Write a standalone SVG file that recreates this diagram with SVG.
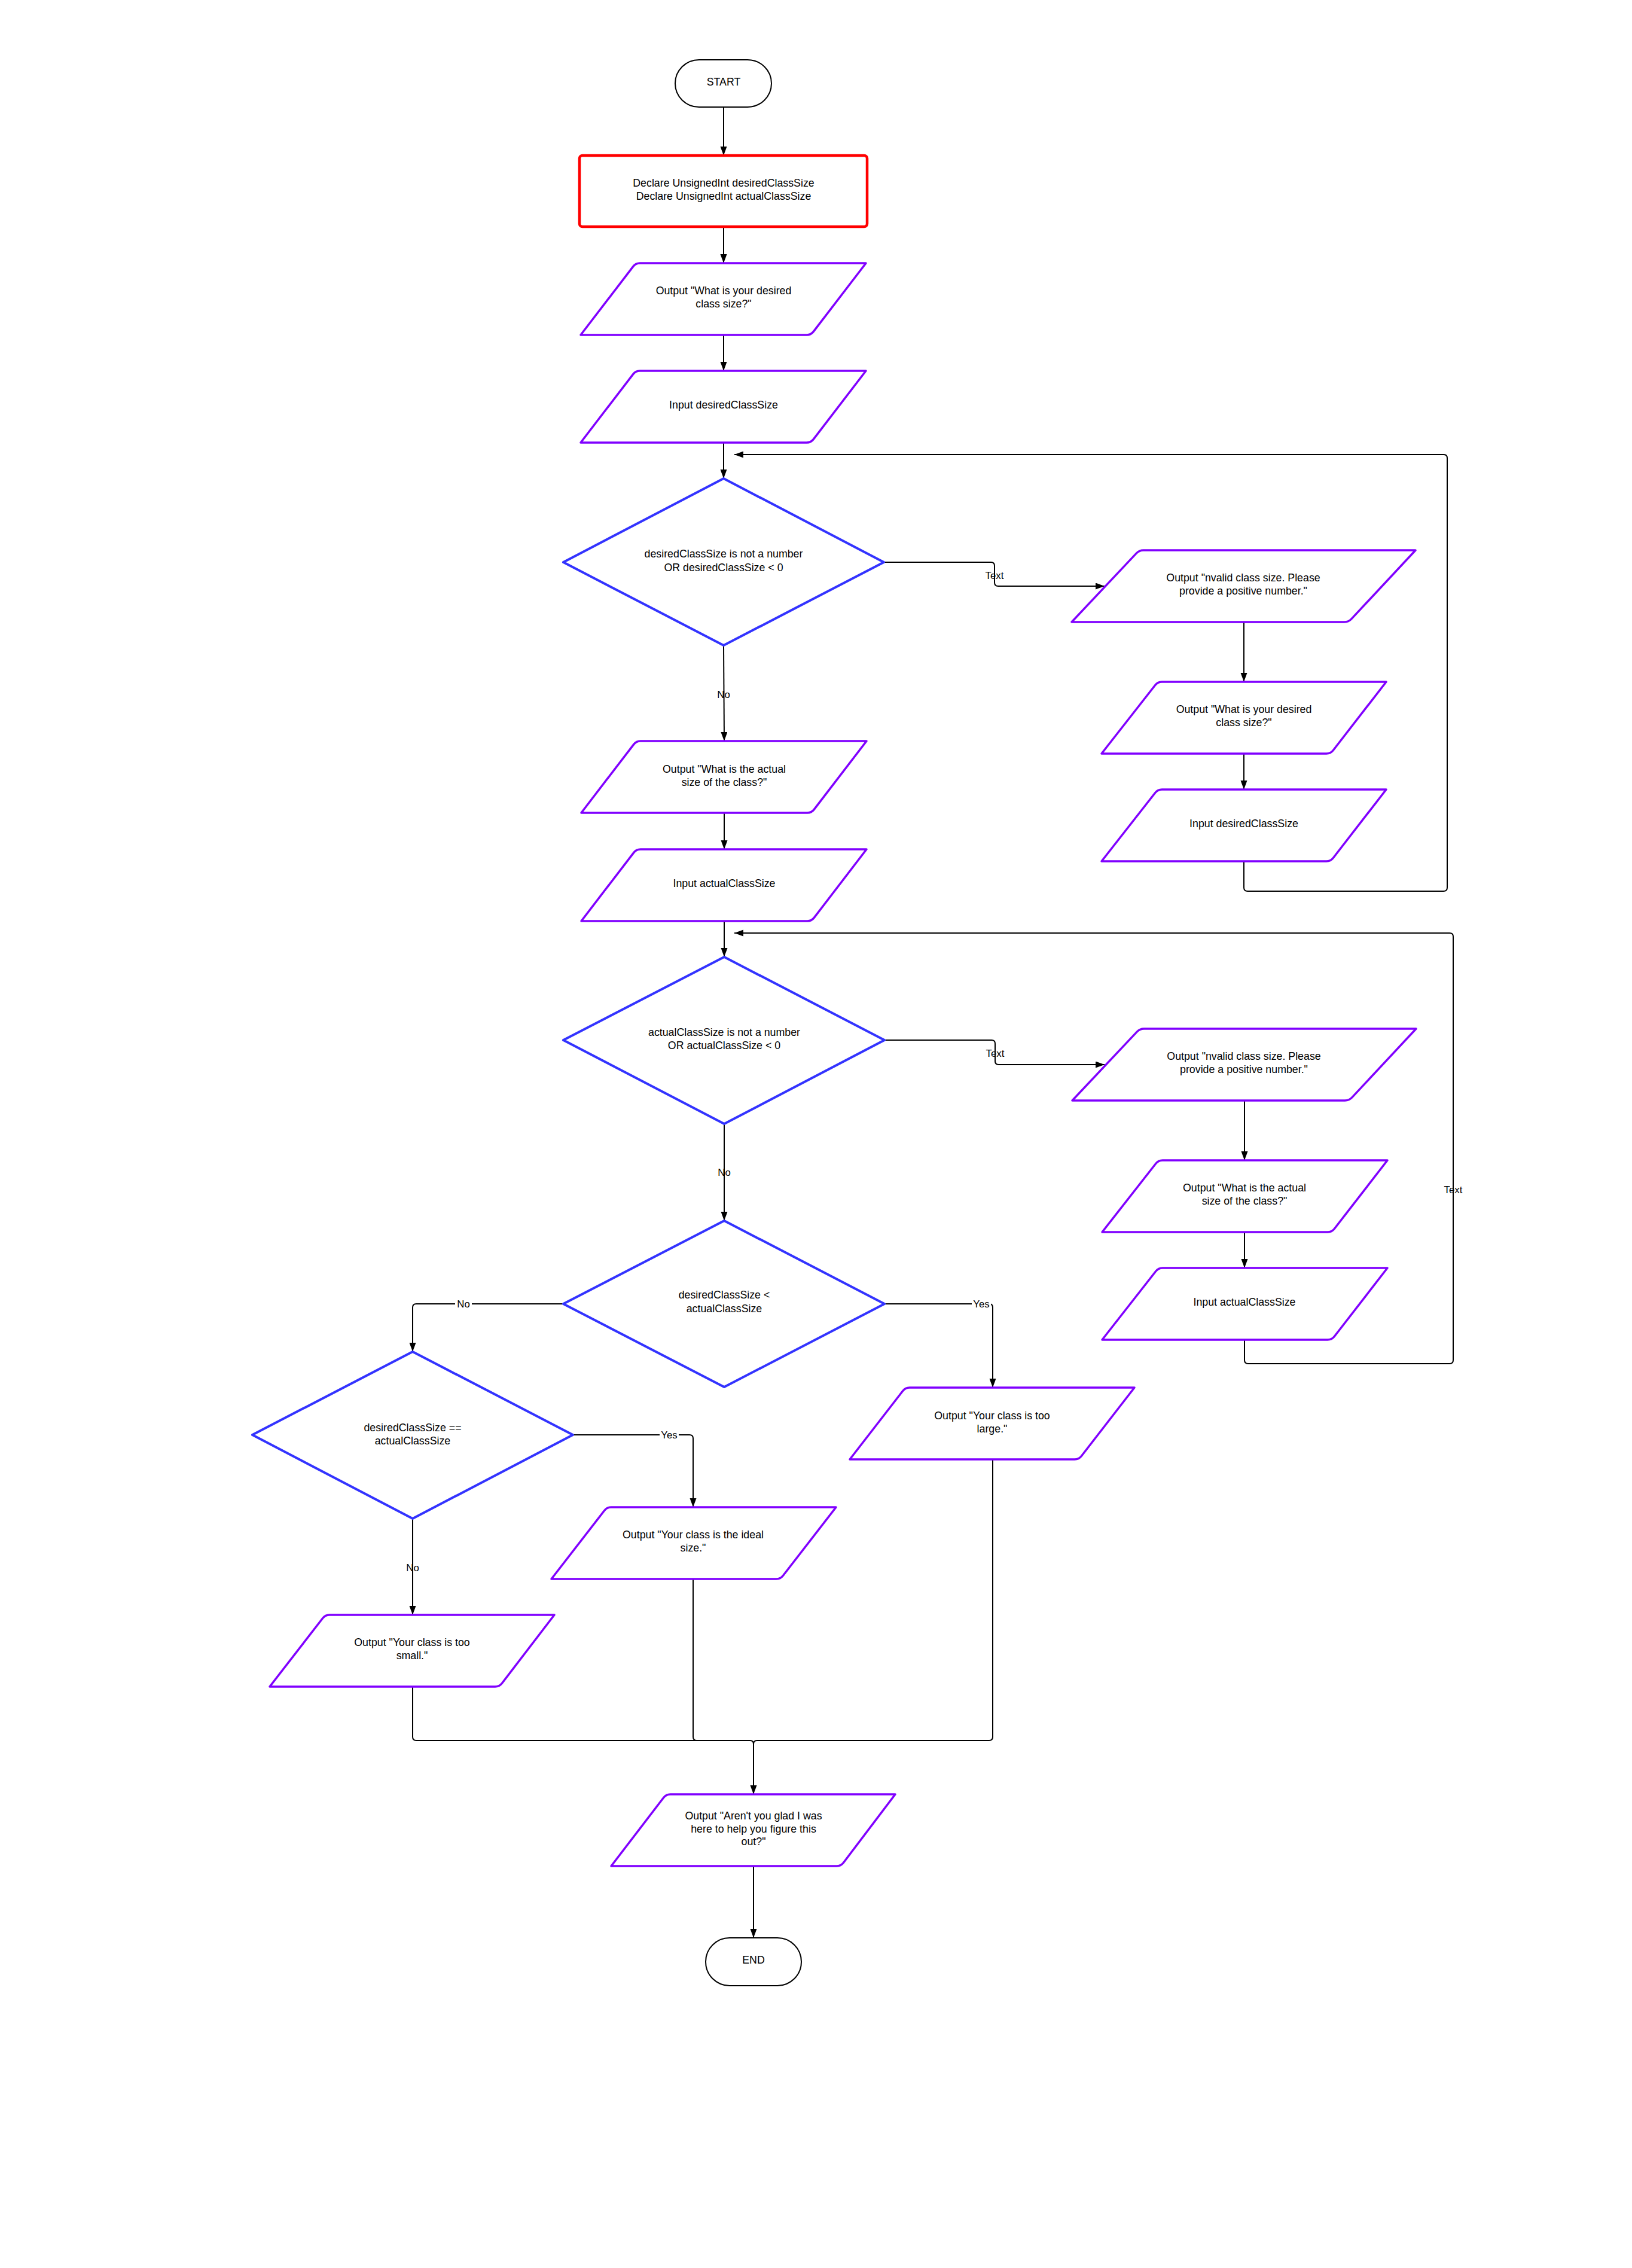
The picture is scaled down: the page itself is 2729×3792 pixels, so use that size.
<svg xmlns="http://www.w3.org/2000/svg" width="2729" height="3792" viewBox="0 0 2729 3792">
<style>
.term{fill:#fff;stroke:#000;stroke-width:2}
.proc{fill:#fff;stroke:#ff0000;stroke-width:4.5}
.io{fill:#fff;stroke:#8000ff;stroke-width:3.5;stroke-linejoin:round}
.dec{fill:#fff;stroke:#3333ff;stroke-width:4;stroke-linejoin:round}
.t{font-family:"Liberation Sans",Arial,sans-serif;font-size:17.8px;text-anchor:middle;fill:#000}
.lbl{font-family:"Liberation Sans",Arial,sans-serif;font-size:16.8px;text-anchor:middle;fill:#000}
.conn{fill:none;stroke:#000;stroke-width:2}
.bg{fill:#fff}
</style>
<defs>
<marker id="arr" markerUnits="userSpaceOnUse" markerWidth="16" markerHeight="12" refX="15" refY="5.5" orient="auto">
<path d="M0,0 L15,5.5 L0,11 z" fill="#000"/>
</marker>
</defs>
<rect width="2729" height="3792" fill="#fff"/>
<g id="connectors">
<path class="conn" d="M1210,179 V260" marker-end="url(#arr)"/>
<path class="conn" d="M1210,379 V440" marker-end="url(#arr)"/>
<path class="conn" d="M1210,560 V620" marker-end="url(#arr)"/>
<path class="conn" d="M1210,740 V800" marker-end="url(#arr)"/>
<path class="conn" d="M1478,940 H1657 Q1663,940 1663,946 V974 Q1663,980 1669,980 H1847" marker-end="url(#arr)"/>
<path class="conn" d="M1210,1079 L1211,1239" marker-end="url(#arr)"/>
<path class="conn" d="M2080,1040 V1140" marker-end="url(#arr)"/>
<path class="conn" d="M2080,1260 V1320" marker-end="url(#arr)"/>
<path class="conn" d="M2080,1440 V1484 Q2080,1490 2086,1490 H2414 Q2420,1490 2420,1484 V766 Q2420,760 2414,760 H1228" marker-end="url(#arr)"/>
<path class="conn" d="M1211,1359 V1420" marker-end="url(#arr)"/>
<path class="conn" d="M1211,1540 V1600" marker-end="url(#arr)"/>
<path class="conn" d="M1479,1739 H1658 Q1664,1739 1664,1745 V1774 Q1664,1780 1670,1780 H1847" marker-end="url(#arr)"/>
<path class="conn" d="M1211,1879 V2041" marker-end="url(#arr)"/>
<path class="conn" d="M2081,1840 V1940" marker-end="url(#arr)"/>
<path class="conn" d="M2081,2060 V2120" marker-end="url(#arr)"/>
<path class="conn" d="M2081,2240 V2274 Q2081,2280 2087,2280 H2424 Q2430,2280 2430,2274 V1566 Q2430,1560 2424,1560 H1228" marker-end="url(#arr)"/>
<path class="conn" d="M942,2180 H696 Q690,2180 690,2186 V2260" marker-end="url(#arr)"/>
<path class="conn" d="M1479,2180 H1654 Q1660,2180 1660,2186 V2320" marker-end="url(#arr)"/>
<path class="conn" d="M958,2399 H1153 Q1159,2399 1159,2405 V2520" marker-end="url(#arr)"/>
<path class="conn" d="M690,2539 V2700" marker-end="url(#arr)"/>
<path class="conn" d="M690,2820 V2904 Q690,2910 696,2910 H1254 Q1260,2910 1260,2916 V3000" marker-end="url(#arr)"/>
<path class="conn" d="M1159,2640 V2904 Q1159,2910 1165,2910 H1254"/>
<path class="conn" d="M1660,2440 V2904 Q1660,2910 1654,2910 H1266 Q1260,2910 1260,2916"/>
<path class="conn" d="M1260,3120 V3240" marker-end="url(#arr)"/>
<text class="lbl" x="1663" y="968">Text</text>
<text class="lbl" x="1210" y="1167">No</text>
<text class="lbl" x="1664" y="1767">Text</text>
<text class="lbl" x="1211" y="1966">No</text>
<text class="lbl" x="2430" y="1995">Text</text>
<rect class="bg" x="761" y="2171" width="28" height="18"/>
<text class="lbl" x="775" y="2186">No</text>
<rect class="bg" x="1625" y="2171" width="32" height="18"/>
<text class="lbl" x="1641" y="2186">Yes</text>
<rect class="bg" x="1103" y="2390" width="32" height="18"/>
<text class="lbl" x="1119" y="2405">Yes</text>
<text class="lbl" x="690" y="2627">No</text>
</g>
<g id="start">
<rect class="term" x="1129" y="100" width="161" height="79" rx="40" ry="39.5"/>
<text class="t" x="1210" y="143">START</text>
</g>
<g id="declare">
<rect class="proc" x="969" y="260" width="481" height="119" rx="5"/>
<text class="t" x="1210" y="311.5">Declare UnsignedInt desiredClassSize</text>
<text class="t" x="1210" y="334">Declare UnsignedInt actualClassSize</text>
</g>
<g id="out-desired">
<path class="io" d="M1058.7,445.6 Q1063,440 1070,440 L1448,440 L1360.3,554.4 Q1356,560 1349,560 L971,560 Z"/>
<text class="t" x="1210" y="491.5">Output "What is your desired</text>
<text class="t" x="1210" y="514">class size?"</text>
</g>
<g id="in-desired">
<path class="io" d="M1058.7,625.6 Q1063,620 1070,620 L1448,620 L1360.3,734.4 Q1356,740 1349,740 L971,740 Z"/>
<text class="t" x="1210" y="683">Input desiredClassSize</text>
</g>
<g id="dec-desired">
<polygon class="dec" points="1210,800 1478,940 1210,1079 942,940"/>
<text class="t" x="1210" y="932">desiredClassSize is not a number</text>
<text class="t" x="1210" y="954.5">OR desiredClassSize &lt; 0</text>
</g>
<g id="out-invalid1">
<path class="io" d="M1900.2,925.1 Q1905,920 1912,920 L2367,920 L2259.8,1034.9 Q2255,1040 2248,1040 L1792,1040 Z"/>
<text class="t" x="2079" y="972">Output "nvalid class size. Please</text>
<text class="t" x="2079" y="994">provide a positive number."</text>
</g>
<g id="out-desired2">
<path class="io" d="M1931.7,1145.5 Q1936,1140 1943,1140 L2318,1140 L2229.3,1254.5 Q2225,1260 2218,1260 L1842,1260 Z"/>
<text class="t" x="2080" y="1192">Output "What is your desired</text>
<text class="t" x="2080" y="1214">class size?"</text>
</g>
<g id="in-desired2">
<path class="io" d="M1931.7,1325.5 Q1936,1320 1943,1320 L2318,1320 L2229.3,1434.5 Q2225,1440 2218,1440 L1842,1440 Z"/>
<text class="t" x="2080" y="1383">Input desiredClassSize</text>
</g>
<g id="out-actual">
<path class="io" d="M1059.7,1244.6 Q1064,1239 1071,1239 L1449,1239 L1361.3,1353.4 Q1357,1359 1350,1359 L972,1359 Z"/>
<text class="t" x="1211" y="1292">Output "What is the actual</text>
<text class="t" x="1211" y="1314">size of the class?"</text>
</g>
<g id="in-actual">
<path class="io" d="M1059.7,1425.6 Q1064,1420 1071,1420 L1449,1420 L1361.3,1534.4 Q1357,1540 1350,1540 L972,1540 Z"/>
<text class="t" x="1211" y="1483">Input actualClassSize</text>
</g>
<g id="dec-actual">
<polygon class="dec" points="1211,1600 1479,1739 1211,1879 942,1739"/>
<text class="t" x="1211" y="1732">actualClassSize is not a number</text>
<text class="t" x="1211" y="1754">OR actualClassSize &lt; 0</text>
</g>
<g id="out-invalid2">
<path class="io" d="M1901.2,1725.1 Q1906,1720 1913,1720 L2368,1720 L2260.8,1834.9 Q2256,1840 2249,1840 L1793,1840 Z"/>
<text class="t" x="2080" y="1772">Output "nvalid class size. Please</text>
<text class="t" x="2080" y="1794">provide a positive number."</text>
</g>
<g id="out-actual2">
<path class="io" d="M1932.7,1945.5 Q1937,1940 1944,1940 L2320,1940 L2231.3,2054.5 Q2227,2060 2220,2060 L1843,2060 Z"/>
<text class="t" x="2081" y="1992">Output "What is the actual</text>
<text class="t" x="2081" y="2014">size of the class?"</text>
</g>
<g id="in-actual2">
<path class="io" d="M1932.7,2125.5 Q1937,2120 1944,2120 L2320,2120 L2231.3,2234.5 Q2227,2240 2220,2240 L1843,2240 Z"/>
<text class="t" x="2081" y="2183">Input actualClassSize</text>
</g>
<g id="dec-less">
<polygon class="dec" points="1211,2041 1479,2180 1211,2319 942,2180"/>
<text class="t" x="1211" y="2171">desiredClassSize &lt;</text>
<text class="t" x="1211" y="2194">actualClassSize</text>
</g>
<g id="out-large">
<path class="io" d="M1509.7,2325.5 Q1514,2320 1521,2320 L1897,2320 L1808.3,2434.5 Q1804,2440 1797,2440 L1421,2440 Z"/>
<text class="t" x="1659" y="2373">Output "Your class is too</text>
<text class="t" x="1659" y="2394.5">large."</text>
</g>
<g id="dec-equal">
<polygon class="dec" points="690,2260 958,2399 690,2539 422,2399"/>
<text class="t" x="690" y="2393">desiredClassSize ==</text>
<text class="t" x="690" y="2414.5">actualClassSize</text>
</g>
<g id="out-ideal">
<path class="io" d="M1010.7,2525.5 Q1015,2520 1022,2520 L1398,2520 L1309.3,2634.5 Q1305,2640 1298,2640 L922,2640 Z"/>
<text class="t" x="1159" y="2572">Output "Your class is the ideal</text>
<text class="t" x="1159" y="2593.5">size."</text>
</g>
<g id="out-small">
<path class="io" d="M539.7,2705.5 Q544,2700 551,2700 L927,2700 L839.3,2814.5 Q835,2820 828,2820 L451,2820 Z"/>
<text class="t" x="689" y="2752">Output "Your class is too</text>
<text class="t" x="689" y="2774">small."</text>
</g>
<g id="out-glad">
<path class="io" d="M1109.7,3005.5 Q1114,3000 1121,3000 L1497,3000 L1410.3,3114.5 Q1406,3120 1399,3120 L1022,3120 Z"/>
<text class="t" x="1260" y="3042">Output "Aren't you glad I was</text>
<text class="t" x="1260" y="3063.5">here to help you figure this</text>
<text class="t" x="1260" y="3085">out?"</text>
</g>
<g id="end">
<rect class="term" x="1180" y="3240" width="160" height="80" rx="40" ry="40"/>
<text class="t" x="1260" y="3283">END</text>
</g>
</svg>
